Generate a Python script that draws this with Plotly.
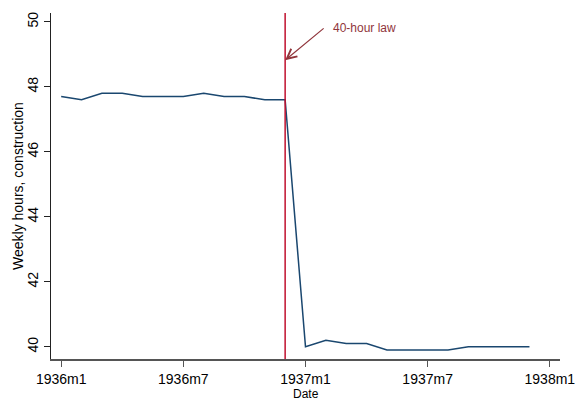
import plotly.graph_objects as go

months = ["1936m1", "1936m2", "1936m3", "1936m4", "1936m5", "1936m6",
          "1936m7", "1936m8", "1936m9", "1936m10", "1936m11", "1936m12",
          "1937m1", "1937m2", "1937m3", "1937m4", "1937m5", "1937m6",
          "1937m7", "1937m8", "1937m9", "1937m10", "1937m11", "1937m12"]
hours = [47.7, 47.6, 47.8, 47.8, 47.7, 47.7, 47.7, 47.8, 47.7, 47.7, 47.6, 47.6,
         40.0, 40.2, 40.1, 40.1, 39.9, 39.9, 39.9, 39.9, 40.0, 40.0, 40.0, 40.0]
tick_labels = ["1936m1", "1936m7", "1937m1", "1937m7", "1938m1"]
y_ticks = [40, 42, 44, 46, 48, 50]
law_month = "1936m12"
law_label = "40-hour law"
x_title = "Date"
y_title = "Weekly hours, construction"

all_months = months + ["1938m1"]
pos = {m: i for i, m in enumerate(all_months)}
x = [pos[m] for m in months]
law_x = pos[law_month]

fig = go.Figure()
fig.add_trace(go.Scatter(x=x, y=hours, mode="lines",
                         line=dict(color="#1a476f", width=1.5),
                         hoverinfo="skip", showlegend=False))

fig.add_shape(type="line", xref="x", yref="paper", x0=law_x, x1=law_x, y0=0, y1=1,
              line=dict(color="#c0102e", width=1.5))

fig.add_annotation(x=law_x, y=48.82, xref="x", yref="y", text="", showarrow=True,
                   ax=40, ay=-33, arrowhead=5, arrowsize=1.6, arrowwidth=1.2,
                   arrowcolor="#90353b")
fig.add_annotation(x=law_x, y=48.82, xref="x", yref="y", text=law_label, showarrow=False,
                   xanchor="left", yanchor="middle", xshift=46, yshift=32,
                   font=dict(family="Liberation Sans, Arial, sans-serif", size=12, color="#90353b"))

font = dict(family="Liberation Sans, Arial, sans-serif", size=14, color="#000")

fig.add_annotation(x=0.5, y=0, xref="paper", yref="paper", text=x_title, showarrow=False,
                   xanchor="center", yanchor="top", yshift=-26,
                   font=dict(family="Liberation Sans, Arial, sans-serif", size=12, color="#000"))
fig.add_annotation(x=0, y=0.5, xref="paper", yref="paper", text=y_title, showarrow=False,
                   textangle=-90, xanchor="center", yanchor="middle", xshift=-33, font=font)

fig.update_layout(
    width=576, height=400,
    margin=dict(l=51, r=16, t=13, b=41, autoexpand=False),
    paper_bgcolor="white", plot_bgcolor="white",
    font=font,
    xaxis=dict(range=[-0.5, 24.5], tickvals=[pos[t] for t in tick_labels], ticktext=tick_labels,
               showgrid=False, zeroline=False, showline=True, linecolor="#555", linewidth=1.5,
               ticks="outside", ticklen=6, tickcolor="#555", tickwidth=1, automargin=False,
               tickfont=font),
    yaxis=dict(range=[39.625, 50.27], tickvals=y_ticks, showgrid=False, zeroline=False,
               showline=True, linecolor="#222", linewidth=1, automargin=False,
               ticks="outside", ticklen=6, tickcolor="#222", tickangle=-90,
               tickfont=font),
)
fig.write_html("out.html")
